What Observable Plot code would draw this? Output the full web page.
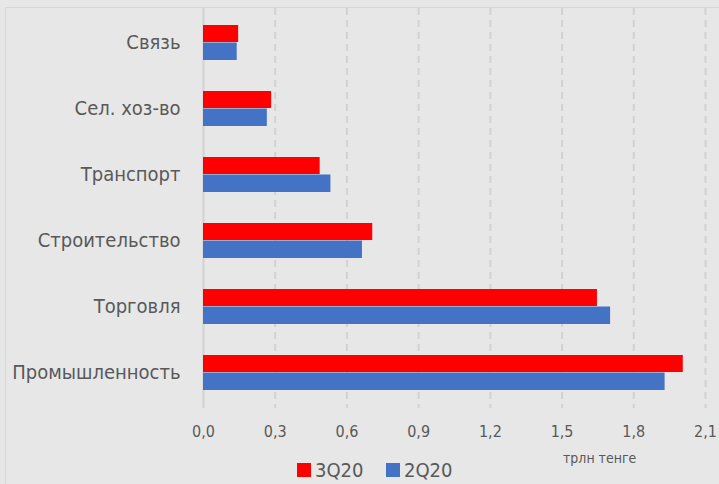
<!DOCTYPE html>
<html>
<head>
<meta charset="utf-8">
<script src="https://cdn.jsdelivr.net/npm/d3@7"></script>
<script src="https://cdn.jsdelivr.net/npm/@observablehq/plot@0.6"></script>
<style>
  html, body { margin: 0; padding: 0; background: #e7e7e7; }
  #wrap { position: relative; width: 719px; height: 484px; background: #e7e7e7; overflow: hidden;
          font-family: "DejaVu Sans Condensed", sans-serif; color: #595959; }
  #border { position: absolute; left: 5px; top: 7px; width: 800px; height: 600px;
            border-left: 1.5px solid #d6d6d6; border-top: 1.5px solid #d6d6d6; }
  #chart { position: absolute; left: 0; top: 0; }
  #legend { position: absolute; left: 0; top: 445px; width: 719px; height: 39px; }
  .sw { position: absolute; width: 14px; height: 14px; top: 18px; }
  .lt { position: absolute; top: 13px; font-size: 20px; line-height: 24px; }
  #unit { position: absolute; left: 563px; top: 5px; font-size: 14px; line-height: 16px; }
</style>
</head>
<body>
<div id="wrap">
  <div id="border"></div>
  <div id="chart"></div>
  <div id="legend">
    <div class="sw" style="left:297px;background:#ff0000"></div>
    <div class="lt" style="left:315px">3Q20</div>
    <div class="sw" style="left:386px;background:#4472c4"></div>
    <div class="lt" style="left:404px">2Q20</div>
    <div id="unit">трлн тенге</div>
  </div>
</div>
<script>
const categories = ["Связь", "Сел. хоз-во", "Транспорт", "Строительство", "Торговля", "Промышленность"];
const series = ["3Q20", "2Q20"];
const values3Q20 = [0.147, 0.285, 0.488, 0.708, 1.648, 2.007];
const values2Q20 = [0.141, 0.267, 0.533, 0.665, 1.703, 1.931];
const xTicks = [0, 0.3, 0.6, 0.9, 1.2, 1.5, 1.8, 2.1];
const xTickLabels = ["0,0", "0,3", "0,6", "0,9", "1,2", "1,5", "1,8", "2,1"];
const colors = ["#ff0000", "#4472c4"];

const rows3 = categories.map((c, i) => ({category: c, series: series[0], value: values3Q20[i]}));
const rows2 = categories.map((c, i) => ({category: c, series: series[1], value: values2Q20[i]}));

const chart = Plot.plot({
  width: 719,
  height: 445,
  marginLeft: 203,
  marginRight: 14,
  marginTop: 8,
  marginBottom: 37,
  style: {background: "transparent", color: "#595959", fontFamily: '"DejaVu Sans Condensed", sans-serif'},
  x: {domain: [0, 2.1], ticks: xTicks, axis: null},
  y: {domain: categories, paddingInner: 0.466, paddingOuter: 0.233, axis: null},
  color: {domain: series, range: colors},
  marks: [
    Plot.gridX(xTicks.slice(1), {stroke: "#d2d2d2", strokeOpacity: 1, strokeWidth: 2, strokeDasharray: "7,5"}),
    Plot.ruleX([0], {stroke: "#d2d2d2", strokeWidth: 2}),
    Plot.barX(rows3, {x: "value", y: "category", fill: "series", insetBottom: 18}),
    Plot.barX(rows2, {x: "value", y: "category", fill: "series", insetTop: 17.5}),
    Plot.axisY({tickSize: 0, tickPadding: 23, fontSize: 20, fill: "#595959", label: null}),
    Plot.axisX(xTicks, {tickSize: 0, tickPadding: 17, fontSize: 16, fill: "#595959", label: null,
      tickFormat: (d) => xTickLabels[xTicks.indexOf(d)]})
  ]
});
document.getElementById("chart").appendChild(chart);
</script>
</body>
</html>
